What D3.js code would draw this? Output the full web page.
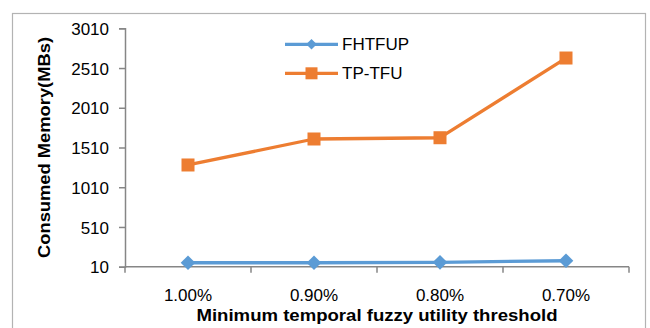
<!DOCTYPE html>
<html>
<head>
<meta charset="utf-8">
<script src="https://cdn.jsdelivr.net/npm/d3@7"></script>
<style>
  html, body { margin: 0; padding: 0; background: #fff; }
  svg { display: block; }
  text { font-family: "Liberation Sans", Arial, sans-serif; fill: #000; }
</style>
</head>
<body>
<svg id="chart" width="650" height="328"></svg>
<script>
// Thresholds on the x axis
const categories = ["1.00%", "0.90%", "0.80%", "0.70%"];
// Memory consumption (MB) per algorithm
const fhtfup = [60, 60, 65, 85];
const tptfu = [1290, 1617, 1633, 2636];
// Y axis tick values
const yTicks = [10, 510, 1010, 1510, 2010, 2510, 3010];

const seriesList = [
  { name: "FHTFUP", values: fhtfup, color: "#5b9bd5", marker: "diamond" },
  { name: "TP-TFU", values: tptfu, color: "#ed7d31", marker: "square" }
];

const svg = d3.select("#chart");
const margin = { left: 125, right: 629, top: 28.3, bottom: 266.7 };

// Outer chart frame
svg.append("rect")
  .attr("x", 12.5).attr("y", 13.5)
  .attr("width", 633).attr("height", 330)
  .attr("fill", "#fff").attr("stroke", "#b3b3b3").attr("stroke-width", 1.2);

const x = d3.scaleBand().domain(categories).range([margin.left, margin.right]).padding(0);
const y = d3.scaleLinear().domain([10, 3010]).range([margin.bottom, margin.top]);

// Y axis
const yAxis = svg.append("g")
  .attr("transform", `translate(${margin.left},0)`)
  .call(d3.axisLeft(y).tickValues(yTicks).tickSize(6).tickPadding(10).tickFormat(d3.format("d")));
yAxis.attr("font-family", null).attr("font-size", null);
yAxis.select(".domain").attr("stroke", "#868686").attr("stroke-width", 1.5);
yAxis.selectAll(".tick line").attr("stroke", "#868686").attr("stroke-width", 1.5);
yAxis.selectAll(".tick text").attr("font-size", 17).attr("fill", "#000")
  .attr("dy", "0.36em");

// X axis with boundary ticks between categories
const xAxisG = svg.append("g").attr("transform", `translate(0,${margin.bottom})`);
xAxisG.append("line")
  .attr("x1", margin.left).attr("x2", margin.right)
  .attr("stroke", "#868686").attr("stroke-width", 1.5);
const bounds = categories.map(c => x(c)).concat([margin.right]);
xAxisG.selectAll("line.tk").data(bounds).join("line")
  .attr("class", "tk")
  .attr("x1", d => d).attr("x2", d => d)
  .attr("y1", 0).attr("y2", 6)
  .attr("stroke", "#868686").attr("stroke-width", 1.5);
xAxisG.selectAll("text").data(categories).join("text")
  .attr("x", d => x(d) + x.bandwidth() / 2)
  .attr("y", 34)
  .attr("text-anchor", "middle")
  .attr("font-size", 17)
  .text(d => d);

// Axis titles
svg.append("text")
  .attr("x", 377).attr("y", 321)
  .attr("text-anchor", "middle")
  .attr("font-size", 16).attr("font-weight", "bold")
  .attr("textLength", 361).attr("lengthAdjust", "spacingAndGlyphs")
  .text("Minimum temporal fuzzy utility threshold");

svg.append("text")
  .attr("transform", "translate(50,147.5) rotate(-90)")
  .attr("text-anchor", "middle")
  .attr("font-size", 16).attr("font-weight", "bold")
  .attr("textLength", 221).attr("lengthAdjust", "spacingAndGlyphs")
  .text("Consumed Memory(MBs)");

const cx = c => x(c) + x.bandwidth() / 2;

function drawMarker(g, type, px, py, color, size) {
  if (type === "square") {
    g.append("rect")
      .attr("x", px - size / 2).attr("y", py - size / 2)
      .attr("width", size).attr("height", size)
      .attr("fill", color);
  } else {
    const h = size / 2 + 0.8;
    g.append("path")
      .attr("d", `M${px},${py - h}L${px + h},${py}L${px},${py + h}L${px - h},${py}Z`)
      .attr("fill", color);
  }
}

// Series lines and markers
const line = d3.line().x((d, i) => cx(categories[i])).y(d => y(d));
seriesList.forEach(s => {
  const g = svg.append("g");
  g.append("path")
    .datum(s.values)
    .attr("d", line)
    .attr("fill", "none")
    .attr("stroke", s.color)
    .attr("stroke-width", 3.3)
    .attr("stroke-linejoin", "round");
  s.values.forEach((v, i) => drawMarker(g, s.marker, cx(categories[i]), y(v), s.color, 13));
});

// Legend
const legendY = [44.3, 73.3];
seriesList.forEach((s, i) => {
  const g = svg.append("g");
  g.append("line")
    .attr("x1", 285).attr("x2", 338)
    .attr("y1", legendY[i]).attr("y2", legendY[i])
    .attr("stroke", s.color).attr("stroke-width", 3.3);
  drawMarker(g, s.marker, 311.5, legendY[i], s.color, s.marker === "square" ? 12 : 9);
  g.append("text")
    .attr("x", 342).attr("y", legendY[i] + 6)
    .attr("font-size", 17)
    .text(s.name);
});
</script>
</body>
</html>
